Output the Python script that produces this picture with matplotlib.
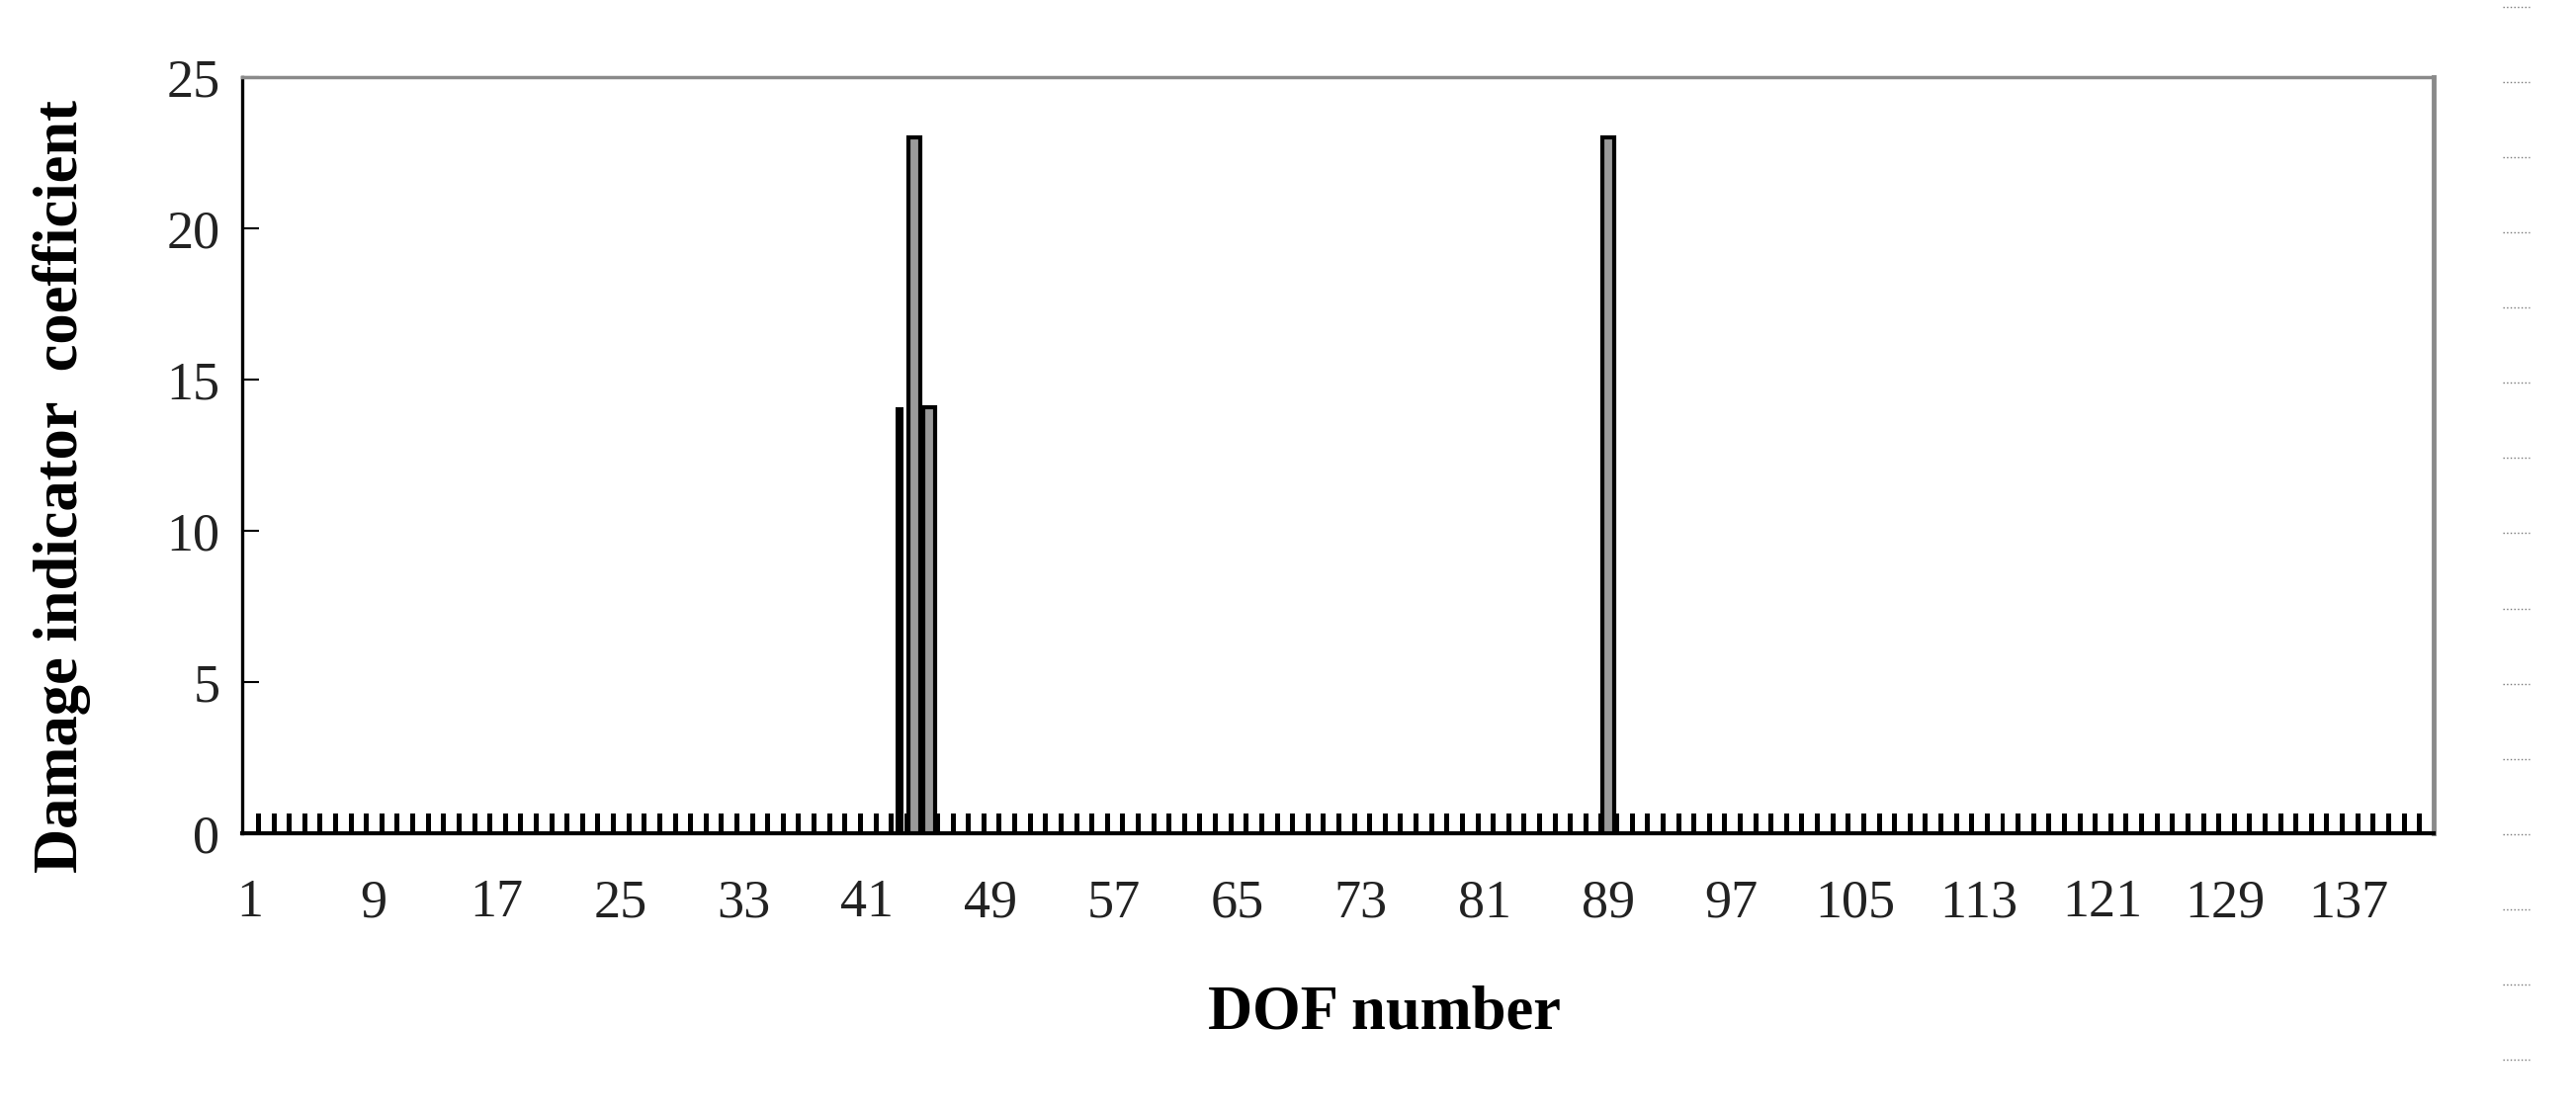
import numpy as np
import matplotlib.pyplot as plt
from matplotlib.lines import Line2D

# === data ===
dof = np.arange(1, 142)                 # DOF numbers with a small baseline bar
base_level = 0.65                        # height of the small bars
base_vals = [base_level] * len(dof)

peak_dof = [43, 44, 45, 89]              # DOFs with a large damage indicator
peak_val = [14.1, 23.0, 14.1, 23.0]
peak_solid = [True, False, False, False]

tick_dof = list(range(1, 138, 8))        # 1, 9, ..., 137

# === plot ===
plt.rcParams['font.family'] = ['Liberation Serif', 'DejaVu Serif']

fig = plt.figure(figsize=(26.06, 11.26), dpi=100)
ax = fig.add_axes([0.0939, 0.2513, 0.8509, 0.6794])

# small bars sit a little right of each category centre
ax.bar(dof + 0.57, base_vals, width=0.32, color='black', linewidth=0, zorder=2)

for d, v, solid in zip(peak_dof, peak_val, peak_solid):
    if solid:
        ax.bar(d + 0.1, v, width=0.48, color='black', linewidth=0, zorder=3)
    else:
        ax.bar(d + 0.05, v, width=0.77, facecolor='#9a9a9a', edgecolor='black',
               linewidth=3, zorder=3)

ax.set_xlim(0.5, 142.5)
ax.set_ylim(0, 25)
ax.set_yticks([0, 5, 10, 15, 20, 25])
ax.set_xticks(tick_dof)
ax.set_xticklabels([str(t) for t in tick_dof])

ax.tick_params(axis='y', direction='in', length=12, width=1.5, pad=16,
               labelsize=39, colors='black')
ax.tick_params(axis='x', length=0, pad=33, labelsize=39)
for lab in ax.get_yticklabels() + ax.get_xticklabels():
    lab.set_color('#222222')

ax.spines['left'].set_linewidth(2.4)
ax.spines['bottom'].set_linewidth(3.0)
ax.spines['top'].set_color('#8a8a8a')
ax.spines['right'].set_color('#8a8a8a')
ax.spines['top'].set_linewidth(2.5)
ax.spines['right'].set_linewidth(3.5)

fig.text(0.024, 0.563, 'Damage indicator  coefficient', rotation=90,
         ha='center', va='center', fontsize=45, fontweight='bold')
fig.text(0.5376, 0.089, 'DOF number', ha='center', va='center',
         fontsize=45, fontweight='bold')

# faint dotted marks down the right margin
for i in range(15):
    y = 1 - (6.7 + 76.1 * i) / 1126
    fig.add_artist(Line2D([0.9715, 0.982], [y, y], transform=fig.transFigure,
                          color='#777777', linestyle=':', linewidth=1))

fig.savefig('out.png', dpi=100)
